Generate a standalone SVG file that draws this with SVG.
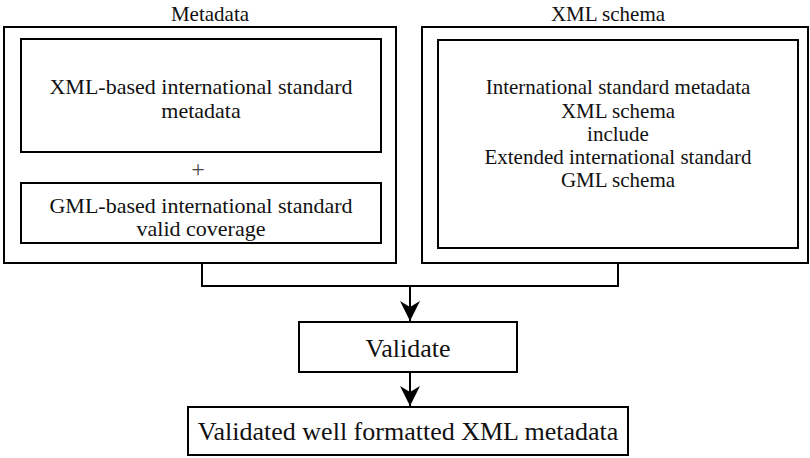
<svg xmlns="http://www.w3.org/2000/svg" width="810" height="458" viewBox="0 0 810 458">
<style>
  .box { fill: #fff; stroke: #000; stroke-width: 2; }
  .t { font-family: "Liberation Serif", "Times New Roman", serif; fill: #111; text-anchor: middle; }
  .title { font-size: 21px; }
  .inner { font-size: 22px; }
  .inner2 { font-size: 21px; }
  .big { font-size: 26px; }
  .plus { font-size: 24px; fill: #444; }
  .conn { fill: none; stroke: #000; stroke-width: 2; }
</style>
<defs>
  <marker id="arrow" markerWidth="20" markerHeight="20" refX="20" refY="10" orient="auto" markerUnits="userSpaceOnUse" viewBox="0 0 20 20">
    <path d="M20,10 L0,0 L6,10 L0,20 Z" fill="#000"/>
  </marker>
</defs>
<rect width="810" height="458" fill="#fff"/>

<g id="metadata">
  <text class="t title" x="210" y="21">Metadata</text>
  <rect class="box" x="4" y="27" width="392" height="236"/>
  <g id="xml-metadata">
    <rect class="box" x="21" y="39" width="360" height="113"/>
    <text class="t inner" x="201" y="94">XML-based international standard</text>
    <text class="t inner" x="201" y="118">metadata</text>
  </g>
  <text class="t plus" x="198" y="177">+</text>
  <g id="gml-coverage">
    <rect class="box" x="21" y="183" width="360" height="60"/>
    <text class="t inner" x="201" y="213">GML-based international standard</text>
    <text class="t inner" x="201" y="236">valid coverage</text>
  </g>
</g>

<g id="xml-schema">
  <text class="t title" x="608" y="21">XML schema</text>
  <rect class="box" x="422" y="27" width="386" height="236"/>
  <g id="schema-inner">
    <rect class="box" x="438" y="40" width="360" height="208"/>
    <text class="t inner2" x="618" y="94">International standard metadata</text>
    <text class="t inner2" x="618" y="118">XML schema</text>
    <text class="t inner2" x="618" y="141">include</text>
    <text class="t inner2" x="618" y="164">Extended international standard</text>
    <text class="t inner2" x="618" y="187">GML schema</text>
  </g>
</g>

<g id="validate">
  <rect class="box" x="299" y="322" width="218" height="50"/>
  <text class="t big" x="408" y="357">Validate</text>
</g>

<g id="result">
  <rect class="box" x="188" y="407" width="440" height="48"/>
  <text class="t big" x="408" y="440">Validated well formatted XML metadata</text>
</g>

<g id="connectors">
  <polyline class="conn" points="202,263 202,286 618,286 618,263"/>
  <line class="conn" x1="410" y1="286" x2="410" y2="321" marker-end="url(#arrow)"/>
  <line class="conn" x1="410" y1="372" x2="410" y2="406" marker-end="url(#arrow)"/>
</g>
</svg>
